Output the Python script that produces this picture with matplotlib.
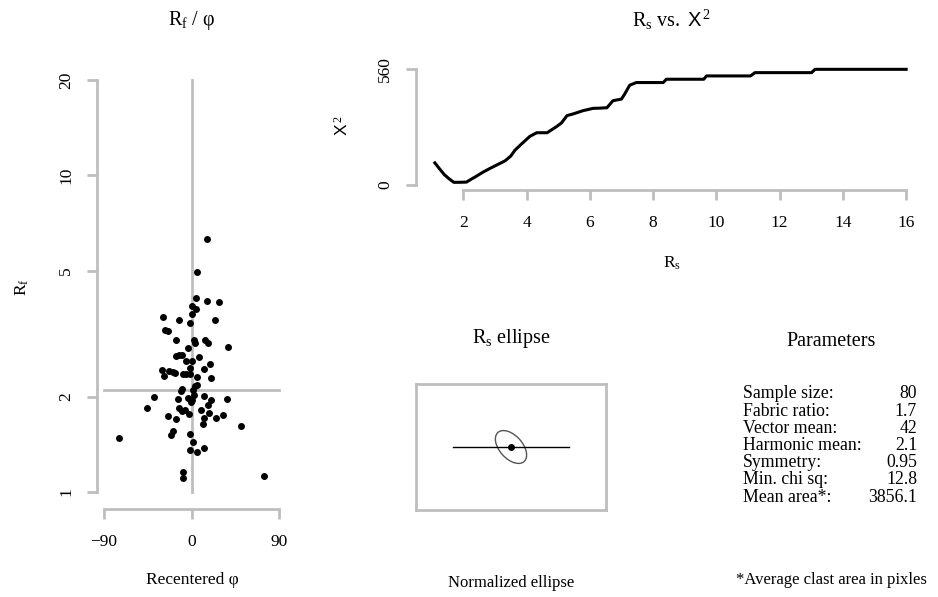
import matplotlib
matplotlib.use("Agg")
import matplotlib.pyplot as plt
from matplotlib.patches import Ellipse
from matplotlib.ticker import FixedLocator, NullLocator

plt.rcParams["font.family"] = ["Liberation Serif", "DejaVu Serif"]
plt.rcParams["mathtext.fontset"] = "custom"
plt.rcParams["mathtext.rm"] = "Liberation Serif"
plt.rcParams["mathtext.it"] = "Liberation Serif:italic"
plt.rcParams["mathtext.sf"] = "Liberation Sans"

# ---- Rf / phi scatter data ----
phi = [15.4, 5.1, 4.1, 15.4, 28.1, 0.3, 4.4, 0.0, -29.4, -12.7, 24.0, -1.7,
       -27.4, -23.9, -16.1, 2.4, 3.4, 14.0, 16.8, 37.6, -4.1, 7.2, -16.1, -12.7,
       -9.6, -6.2, 0.0, -1.7, 12.7, 18.8, -30.5, -28.4, -23.6, -19.5, -17.5, -8.9,
       -5.8, -1.7, 5.8, 19.5, 5.1, 3.4, 1.7, -9.6, -11.0, 2.4, -38.7, -14.4,
       -3.4, 0.0, 12.7, 19.5, 36.6, -1.0, -45.5, -12.7, -10.3, -6.5, -2.4, 9.9,
       16.8, 12.7, 17.5, 25.0, 31.8, -24.0, -16.1, 12.0, 50.3, -19.5, -21.6, -75.0,
       -1.7, 1.7, -1.7, 5.1, 12.7, -9.2, -8.6, 74.3]
rf = [6.28, 4.96, 4.10, 4.00, 3.98, 3.88, 3.79, 3.65, 3.57, 3.49, 3.49, 3.41,
      3.25, 3.23, 3.02, 3.01, 2.95, 3.01, 2.95, 2.87, 2.84, 2.66, 2.68, 2.70,
      2.71, 2.59, 2.59, 2.47, 2.45, 2.53, 2.43, 2.32, 2.41, 2.40, 2.38, 2.36,
      2.36, 2.36, 2.31, 2.29, 2.17, 2.16, 2.10, 2.11, 2.09, 2.03, 2.00, 1.97,
      1.98, 1.95, 2.01, 1.95, 1.96, 1.92, 1.84, 1.84, 1.80, 1.81, 1.76, 1.81,
      1.88, 1.71, 1.77, 1.71, 1.75, 1.74, 1.70, 1.64, 1.62, 1.56, 1.51, 1.48,
      1.52, 1.44, 1.36, 1.34, 1.38, 1.16, 1.11, 1.12]
rf_ticks = [1, 2, 5, 10, 20]
phi_ticks = [-90, 0, 90]

# ---- Rs vs chi-square curve ----
rs = [1.10, 1.25, 1.40, 1.55, 1.70, 1.90, 2.10, 2.25, 2.42, 2.62, 2.84, 3.10,
      3.32, 3.50, 3.63, 3.85, 4.10, 4.32, 4.65, 4.95, 5.10, 5.28, 5.47, 5.79,
      6.10, 6.31, 6.54, 6.73, 7.00, 7.10, 7.26, 7.47, 8.32, 8.42, 9.60, 9.69,
      11.08, 11.22, 13.01, 13.12, 16.00]
chi2 = [107, 78, 50, 30, 12.8, 13, 14, 28, 43, 62, 80, 100, 117, 140, 168,
        200, 235, 253, 253, 283, 300, 336, 344, 360, 371, 372, 374, 408, 416,
        440, 483, 496, 496, 512, 512, 528, 528, 544, 544, 560, 560]
rs_ticks = [2, 4, 6, 8, 10, 12, 14, 16]
chi_ticks = [0, 560]

# ---- Summary parameters ----
param_names = ["Sample size:", "Fabric ratio:", "Vector mean:", "Harmonic mean:",
               "Symmetry:", "Min. chi sq:", "Mean area*:"]
param_values = ["80", "1.7", "42", "2.1", "0.95", "12.8", "3856.1"]
fabric_ratio = 1.7
vector_mean = 42
harmonic_mean = 2.1

W, H = 938, 597
GRAY = "#bebebe"
fig = plt.figure(figsize=(W / 100, H / 100), dpi=100)


def axes_px(left, top, right, bottom):
    return fig.add_axes([left / W, 1 - bottom / H, (right - left) / W, (bottom - top) / H])


def text_px(x, y, s, **kw):
    kw.setdefault("ha", "center")
    kw.setdefault("va", "center")
    return fig.text(x / W, 1 - y / H, s, **kw)


def r_style(ax):
    for side in ("top", "right"):
        ax.spines[side].set_visible(False)
    for side in ("left", "bottom"):
        ax.spines[side].set_color(GRAY)
        ax.spines[side].set_linewidth(2)
    ax.tick_params(color=GRAY, width=2, length=7.5, labelsize=12.5)
    ax.tick_params(axis="x", pad=11)
    ax.tick_params(axis="y", pad=9)


# ---------------- Rf / phi ----------------
ax1 = axes_px(97, 63.5, 286.5, 508.5)
ax1.set_yscale("log")
ax1.set_xlim(-97.2, 97.2)
ax1.set_ylim(10 ** -0.052, 10 ** 1.353)
r_style(ax1)
ax1.spines["left"].set_bounds(rf_ticks[0], rf_ticks[-1])
ax1.spines["bottom"].set_bounds(phi_ticks[0], phi_ticks[-1])
ax1.yaxis.set_major_locator(FixedLocator(rf_ticks))
ax1.yaxis.set_minor_locator(NullLocator())
ax1.set_yticklabels([str(v) for v in rf_ticks])
for t in ax1.get_yticklabels():
    t.set_rotation(90)
    t.set_va("center")
ax1.set_xticks(phi_ticks)
ax1.set_xticklabels(["\u221290", "0", "90"])
ax1.plot([phi_ticks[0], phi_ticks[-1]], [harmonic_mean, harmonic_mean], color=GRAY, lw=2, zorder=1)
ax1.plot([0, 0], [rf_ticks[0], rf_ticks[-1]], color=GRAY, lw=2, zorder=1)
ax1.scatter(phi, rf, s=25, color="black", zorder=3, linewidths=0)

text_px(192, 20, "$\\mathrm{R_f}$ / \u03c6", fontsize=14.5)
text_px(22, 287, "$\\mathrm{R_f}$", fontsize=12.5, rotation=90)
text_px(192, 580, "Recentered \u03c6", fontsize=12.5)

# ---------------- Rs vs chi-square ----------------
ax2 = axes_px(416, 64.7, 925, 189.6)
ax2.set_xlim(0.504, 16.596)
ax2.set_ylim(-22.4, 582.4)
r_style(ax2)
ax2.spines["left"].set_bounds(chi_ticks[0], chi_ticks[-1])
ax2.spines["bottom"].set_bounds(rs_ticks[0], rs_ticks[-1])
ax2.set_xticks(rs_ticks)
ax2.set_yticks(chi_ticks)
for t in ax2.get_yticklabels():
    t.set_rotation(90)
    t.set_va("center")
ax2.plot(rs, chi2, color="black", lw=2.2, solid_joinstyle="round")

text_px(671, 20, "$\\mathrm{R_s\\ vs.\\ }\\mathsf{X}^{\\,2}$", fontsize=14.5)
text_px(343, 126, "$\\mathsf{X}^{\\,2}$", fontsize=12.5, rotation=90)
text_px(672, 263, "$\\mathrm{R_s}$", fontsize=12.5)

# ---------------- Rs ellipse ----------------
ax3 = axes_px(416, 384, 606, 510)
ax3.set_xlim(-1, 1)
ax3.set_ylim(-126 / 190, 126 / 190)
ax3.set_xticks([])
ax3.set_yticks([])
for side in ax3.spines.values():
    side.set_color(GRAY)
    side.set_linewidth(2)
minor_axis = 0.121
ax3.plot([-0.614, 0.614], [0, 0], color="black", lw=1)
ax3.add_patch(Ellipse((0, 0), width=2 * minor_axis * fabric_ratio, height=2 * minor_axis,
                      angle=vector_mean + 90, fill=False, edgecolor="#555555", lw=1))
ax3.scatter([0], [0], s=25, color="black", zorder=3, linewidths=0)

text_px(511, 339, "$\\mathrm{R_s}$ ellipse", fontsize=14.5)
text_px(511, 583, "Normalized ellipse", fontsize=12)

# ---------------- Parameters ----------------
text_px(831, 342, "Parameters", fontsize=14.5)
row_gap = 17.2
for i, (name, val) in enumerate(zip(param_names, param_values)):
    y = 394 + i * row_gap
    text_px(743, y, name, fontsize=12.8, ha="left")
    text_px(917, y, val, fontsize=12.8, ha="right")
text_px(831, 580, "*Average clast area in pixles", fontsize=12)

fig.savefig("out.png", dpi=100)
